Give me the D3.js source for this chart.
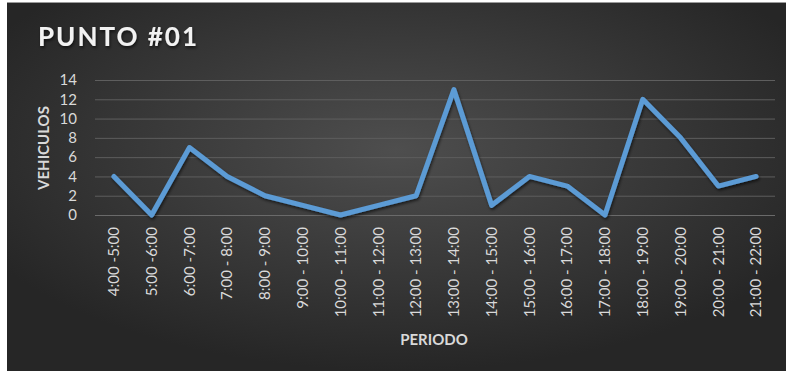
<!DOCTYPE html>
<html>
<head>
<meta charset="utf-8">
<script src="https://cdn.jsdelivr.net/npm/d3@7"></script>
<style>
  body { margin: 0; background: #fff; }
  svg { display: block; }
</style>
</head>
<body>
<svg width="786" height="371"></svg>
<script>
var periodos = ["4:00 -5:00", "5:00 -6:00", "6:00 -7:00", "7:00 - 8:00", "8:00 - 9:00",
    "9:00 - 10:00", "10:00 - 11:00", "11:00 - 12:00", "12:00 - 13:00", "13:00 - 14:00",
    "14:00 - 15:00", "15:00 - 16:00", "16:00 - 17:00", "17:00 - 18:00", "18:00 - 19:00",
    "19:00 - 20:00", "20:00 - 21:00", "21:00 - 22:00"];
var vehiculos = [4, 0, 7, 4, 2, 1, 0, 1, 2, 13, 1, 4, 3, 0, 12, 8, 3, 4];
var yTicks = [0, 2, 4, 6, 8, 10, 12, 14];

var svg = d3.select("svg"),
    width = +svg.attr("width"),
    height = +svg.attr("height");

var font = "Lato, 'Open Sans', sans-serif";

// background gradient
var defs = svg.append("defs");
var grad = defs.append("radialGradient")
    .attr("id", "bg")
    .attr("cx", "50%").attr("cy", "40%").attr("r", "60%");
grad.append("stop").attr("offset", "0%").attr("stop-color", "#4e4e4e");
grad.append("stop").attr("offset", "100%").attr("stop-color", "#262626");

var shadow = defs.append("filter").attr("id", "shadow")
    .attr("x", "-5%").attr("y", "-5%").attr("width", "110%").attr("height", "110%");
shadow.append("feDropShadow")
    .attr("dx", 1).attr("dy", 2).attr("stdDeviation", 1.5)
    .attr("flood-color", "#000").attr("flood-opacity", 0.6);

svg.append("rect")
    .attr("x", 7).attr("y", 2)
    .attr("width", width - 7).attr("height", height - 2)
    .attr("fill", "url(#bg)");
svg.append("line")
    .attr("x1", 7).attr("x2", width).attr("y1", 2.5).attr("y2", 2.5)
    .attr("stroke", "#9a9a9a").attr("stroke-width", 1);

var x = d3.scaleBand()
    .domain(periodos)
    .range([95, 775]);

var y = d3.scaleLinear()
    .domain([0, 14])
    .range([215, 80]);

// gridlines
svg.append("g")
    .selectAll("line")
    .data(yTicks)
    .enter().append("line")
    .attr("x1", 95).attr("x2", 775)
    .attr("y1", function(d) { return y(d) + 0.5; })
    .attr("y2", function(d) { return y(d) + 0.5; })
    .attr("stroke", function(d) { return d === 0 ? "#6a6a6a" : "#5e5e5e"; })
    .attr("stroke-width", 1);

// y axis
var yAxis = svg.append("g")
    .attr("transform", "translate(95,0)")
    .call(d3.axisLeft(y).tickValues(yTicks).tickSize(0).tickPadding(18));
yAxis.select(".domain").remove();
yAxis.selectAll("text")
    .attr("fill", "#d9d9d9")
    .style("font-family", font)
    .style("font-size", "15px");

// x axis
var xAxis = svg.append("g")
    .attr("transform", "translate(0,215)")
    .call(d3.axisBottom(x).tickSize(0));
xAxis.select(".domain").remove();
xAxis.selectAll("text")
    .attr("fill", "#d9d9d9")
    .style("font-family", font)
    .style("font-size", "15px")
    .attr("text-anchor", "end")
    .attr("dy", "0.35em")
    .attr("dx", 0)
    .attr("transform", "translate(0,12) rotate(-90)")
    .attr("x", 0).attr("y", 0);

// line
var line = d3.line()
    .x(function(d, i) { return x(periodos[i]) + x.bandwidth() / 2; })
    .y(function(d) { return y(d); });

svg.append("path")
    .datum(vehiculos)
    .attr("d", line)
    .attr("fill", "none")
    .attr("stroke", "#5b9bd5")
    .attr("stroke-width", 5)
    .attr("stroke-linejoin", "round")
    .attr("stroke-linecap", "round")
    .attr("filter", "url(#shadow)");

// titles
svg.append("text")
    .attr("x", 38).attr("y", 46)
    .attr("fill", "#f2f2f2")
    .style("font-family", font)
    .style("font-size", "26px")
    .style("font-weight", "bold")
    .style("letter-spacing", "2px")
    .attr("filter", "url(#shadow)")
    .text("PUNTO #01");

svg.append("text")
    .attr("transform", "translate(49,148) rotate(-90)")
    .attr("text-anchor", "middle")
    .attr("fill", "#d9d9d9")
    .style("font-family", font)
    .style("font-size", "15px")
    .style("font-weight", "bold")
    .text("VEHICULOS");

svg.append("text")
    .attr("x", 434).attr("y", 345)
    .attr("text-anchor", "middle")
    .attr("fill", "#d9d9d9")
    .style("font-family", font)
    .style("font-size", "15px")
    .style("font-weight", "bold")
    .text("PERIODO");
</script>
</body>
</html>
